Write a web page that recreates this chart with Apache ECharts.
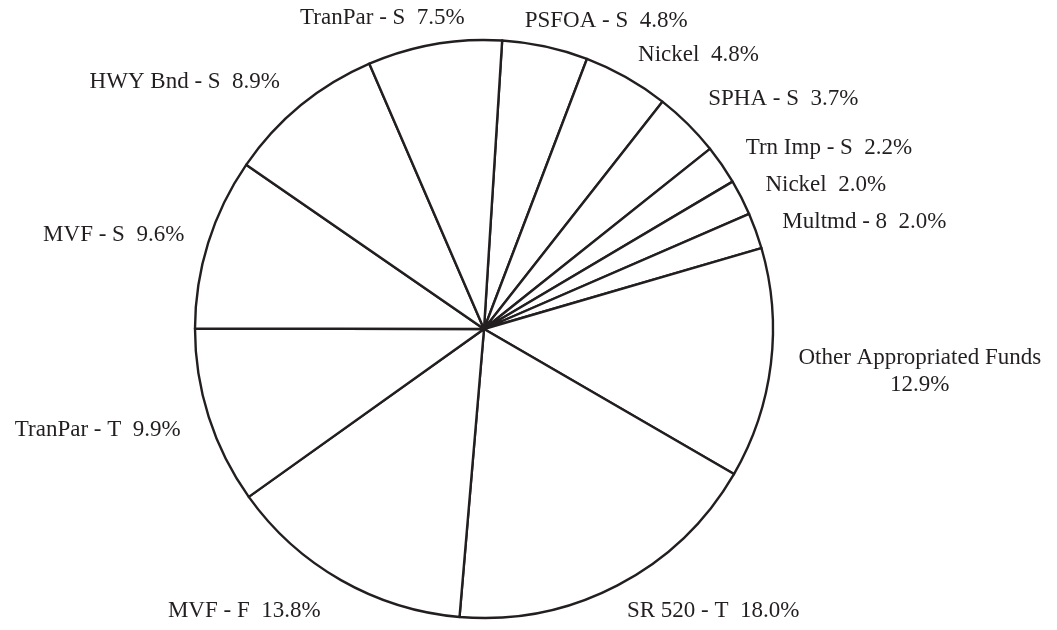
<!DOCTYPE html>
<html><head><meta charset="utf-8">
<script src="https://cdn.jsdelivr.net/npm/echarts@6/dist/echarts.min.js"></script>
<style>html,body{margin:0;padding:0;background:#fff}#chart{width:1057px;height:630px}</style>
</head><body><div id="chart"></div>
<script>
// Data (clockwise, starting from the slice just right of 12 o'clock)
const categories = ['PSFOA - S', 'Nickel', 'SPHA - S', 'Trn Imp - S', 'Nickel', 'Multmd - 8',
  'Other Appropriated Funds', 'SR 520 - T', 'MVF - F', 'TranPar - T', 'MVF - S', 'HWY Bnd - S', 'TranPar - S'];
const shares = [4.8, 4.8, 3.7, 2.2, 2.0, 2.0, 12.9, 18.0, 13.8, 9.9, 9.6, 8.9, 7.5];

// Label placement tweaks (radial / horizontal offsets of each label)
const labelLen  = [26, 26, 35, 29, 27, 25, 62, 29, 35, 42, 25, 31, 27];
const labelLen2 = [-26, -1, -4, 0, 0, 3, -34, -4, 3, -12, 0, 1, -35];

const FONT = "'Liberation Serif', 'Times New Roman', serif";
const INK = '#231f20';

const chart = echarts.init(document.getElementById('chart'), null, {renderer: 'canvas'});
chart.setOption({
  backgroundColor: '#fff',
  animation: false,
  series: [{
    type: 'pie',
    center: [484, 329],
    radius: 289,
    startAngle: 86.4,
    clockwise: true,
    avoidLabelOverlap: false,
    silent: true,
    itemStyle: {color: '#fff', borderColor: INK, borderWidth: 2.4},
    emphasis: {disabled: true},
    label: {
      show: true,
      position: 'outside',
      fontFamily: FONT,
      fontSize: 23,
      color: INK,
      distanceToLabelLine: 0,
      formatter: function (p) {
        const v = p.value.toFixed(1) + '%';
        if (p.name === 'Other Appropriated Funds') {
          return '{c|' + p.name + '}\n{c|' + v + '}';
        }
        return p.name + '  ' + v;
      },
      rich: {c: {align: 'center', fontFamily: FONT, fontSize: 23, color: INK, lineHeight: 27}}
    },
    labelLine: {show: false},
    data: categories.map((n, i) => ({
      name: n,
      value: shares[i],
      labelLine: {length: labelLen[i], length2: labelLen2[i]}
    }))
  }]
});
</script>
</body></html>
